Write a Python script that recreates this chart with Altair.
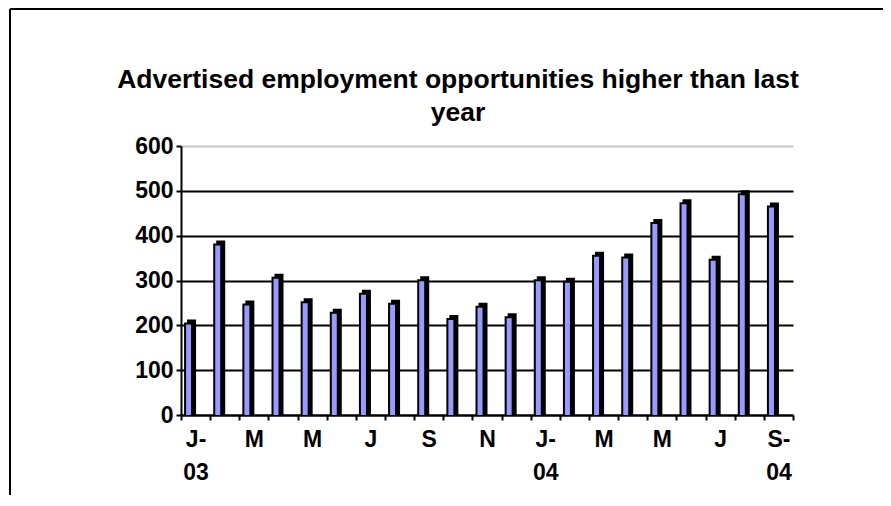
import json
import altair as alt
import pandas as pd

MONTHS = ["Jan-03", "Feb-03", "Mar-03", "Apr-03", "May-03", "Jun-03", "Jul-03",
          "Aug-03", "Sep-03", "Oct-03", "Nov-03", "Dec-03", "Jan-04", "Feb-04",
          "Mar-04", "Apr-04", "May-04", "Jun-04", "Jul-04", "Aug-04", "Sep-04"]
VALUES = [211, 387, 253, 313, 258, 235, 277, 255, 307, 221, 248,
          225, 307, 304, 362, 358, 435, 479, 353, 499, 472]
TICK_LABELS = [["J-", "03"], "", "M", "", "M", "", "J", "", "S", "", "N", "",
               ["J-", "04"], "", "M", "", "M", "", "J", "", ["S-", "04"]]
Y_TICKS = [0, 100, 200, 300, 400, 500, 600]
TITLE = ["Advertised employment opportunities higher than last", "year"]

FONT = "Liberation Sans"

df = pd.DataFrame({"month": MONTHS, "value": VALUES})

label_expr = f"{json.dumps(TICK_LABELS)}[indexof({json.dumps(MONTHS)}, datum.value)]"

x_enc = alt.X("month:N", sort=MONTHS, title=None,
              scale=alt.Scale(paddingInner=0, paddingOuter=0),
              axis=alt.Axis(labelExpr=label_expr, labelAngle=0, tickBand="extent",
                            labelFont=FONT, labelFontSize=23, labelFontWeight="bold",
                            labelLineHeight=33, labelPadding=8, labelColor="black",
                            domainColor="black", domainWidth=2, tickColor="black",
                            tickWidth=2, tickSize=5, grid=False))
y_enc = alt.Y("value:Q", title=None,
              scale=alt.Scale(domain=[0, 600], nice=False),
              axis=alt.Axis(values=Y_TICKS, labelFont=FONT, labelFontSize=23,
                            labelFontWeight="bold", labelColor="black", labelPadding=3,
                            domainColor="black", domainWidth=2, tickColor="black",
                            tickWidth=2, tickSize=5, grid=True,
                            gridColor={"condition": {"test": "datum.value === 600", "value": "#c8c8c8"},
                                       "value": "black"},
                            gridWidth=2))

base = alt.Chart(df)
depth = base.mark_bar(size=7, color="black", stroke="black", strokeWidth=2,
                      xOffset=-4).encode(x=x_enc, y=y_enc)
front = base.mark_bar(size=7, color="#9999FF", stroke="black", strokeWidth=2,
                      xOffset=-7, yOffset=3, clip=True).encode(x=x_enc, y=y_enc)

frame_df = pd.DataFrame({"k": [0]})
top_line = alt.Chart(frame_df).mark_rule(color="black", strokeWidth=2).encode(
    x=alt.value(-171), x2=alt.value(702), y=alt.value(-137))
left_line = alt.Chart(frame_df).mark_rule(color="black", strokeWidth=2).encode(
    x=alt.value(-171), y=alt.value(-137), y2=alt.value(349))

chart = alt.layer(top_line, left_line, depth, front).properties(
    width=612, height=269,
    padding={"left": 173, "top": 138, "right": 90, "bottom": 80},
    autosize=alt.AutoSizeParams(type="none"),
    background="white",
    title=alt.Title(TITLE, font=FONT, fontSize=26.5, fontWeight="bold", color="black",
                    lineHeight=33, anchor="middle", frame="group", dx=-29, dy=171,
                    baseline="bottom", offset=26),
).configure_view(stroke=None)

chart.save("out.html", embed_options={"renderer": "svg", "actions": False})
